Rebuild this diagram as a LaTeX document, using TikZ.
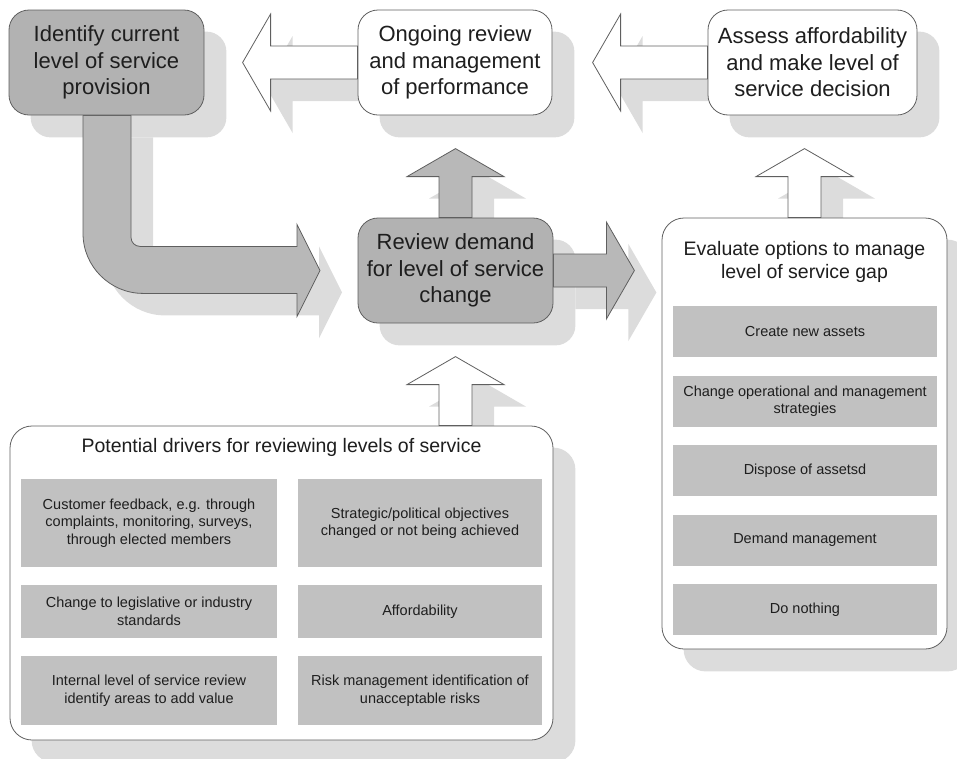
\documentclass[tikz,border=0pt]{standalone}
\usepackage{fontspec}
\setmainfont{Liberation Sans}
\usepackage{tikz}
\usetikzlibrary{calc}
\usetikzlibrary{positioning}

\pgfdeclarelayer{shadow}
\pgfdeclarelayer{arrows}
\pgfsetlayers{shadow,arrows,main}

\definecolor{boxgray}{RGB}{178,178,178}
\definecolor{arrowgray}{RGB}{184,184,184}
\definecolor{itemgray}{RGB}{193,193,193}
\definecolor{shadowgray}{RGB}{220,220,220}
\definecolor{linegray}{RGB}{95,95,95}
\definecolor{textgray}{RGB}{30,30,30}

\begin{document}
\begin{tikzpicture}[x=1pt,y=-1pt,
    stage/.style={draw=linegray,line width=0.8,rounded corners=20,
        minimum width=195,minimum height=105,inner sep=0,align=center,
        text=textgray,font=\fontsize{22}{26.5}\selectfont},
    panel/.style={draw=linegray,line width=0.8,rounded corners=22,fill=white},
    paneltitle/.style={align=center,text=textgray,font=\fontsize{19.5}{23}\selectfont},
    item/.style={fill=itemgray,inner sep=0,align=center,text=textgray,
        font=\fontsize{14.5}{17.5}\selectfont},
    blockstyle/.style={draw=linegray,line width=0.8},
    % straight block arrow along +x, #1 = length
    pics/blockarr/.style={code={
        \path[pic actions] (0,-16.5) -- ({#1-28},-16.5) -- ({#1-28},-48.5)
            -- (#1,0) -- ({#1-28},48.5) -- ({#1-28},16.5) -- (0,16.5) -- cycle;
    }},
    pics/bendarr/.style={code={
        \path[pic actions] (-23.5,0) -- (-23.5,118)
            .. controls (-23.5,151) and (3.5,178) .. (36.5,178)
            -- (190.5,178) -- (190.5,201) -- (213.5,155) -- (190.5,109)
            -- (190.5,131) -- (33.5,131)
            .. controls (28.5,131) and (24.5,127) .. (24.5,122)
            -- (24.5,0) -- cycle;
    }}]
\useasboundingbox (0,0) rectangle (957,758);

% top row
\node[stage,fill=boxgray] (ident) at (106.5,62.5) {Identify current\\level of service\\provision};
\node[stage,fill=white,minimum width=194] (ongoing) at (455,62.5) {Ongoing review\\and management\\of performance};
\node[stage,fill=white,minimum width=209] (assess) at (812.5,62.5) {Assess affordability\\and make level of\\service decision};

% middle
\node[stage,fill=boxgray] (review) at (455.5,270.5) {Review demand\\for level of service\\change};

% options panel
\node[panel,minimum width=285,minimum height=431] (evaluate) at (804.5,433.5) {};
\node[paneltitle] (evaltitle) at (804.5,261.5) {Evaluate options to manage\\level of service gap};
\foreach \txt [count=\i] in {Create new assets,
        {Change operational and management\\strategies},
        Dispose of assetsd, Demand management, Do nothing}
    \node[item,minimum width=264,minimum height=51] (opt\i) at (805,{262.5+69.4*\i}) {\txt};

% drivers panel
\node[panel,minimum width=543,minimum height=314] (drivers) at (281.5,583) {};
\node[paneltitle] (drvtitle) at (281.5,447) {Potential drivers for reviewing levels of service};
\node[item,minimum width=256,minimum height=88] (drv1) at (149,523) {Customer feedback, e.g. through\\complaints, monitoring, surveys,\\through elected members};
\node[item,minimum width=244,minimum height=88] (drv2) at (420,523) {Strategic/political objectives\\changed or not being achieved};
\node[item,minimum width=256,minimum height=53] (drv3) at (149,611.5) {Change to legislative or industry\\standards};
\node[item,minimum width=244,minimum height=53] (drv4) at (420,611.5) {Affordability};
\node[item,minimum width=256,minimum height=69] (drv5) at (149,690.5) {Internal level of service review\\identify areas to add value};
\node[item,minimum width=244,minimum height=69] (drv6) at (420,690.5) {Risk management identification of\\unacceptable risks};

\coordinate (drvin) at (review.south |- drivers.north);

% block arrows
\begin{pgfonlayer}{arrows}
\foreach \a/\rot/\len/\col in {ongoing.west/180/115/white, assess.west/180/115/white,
        review.east/0/81/arrowgray, review.north/90/69/arrowgray,
        evaluate.north/90/69/white, drvin/90/69/white}
    \pic[blockstyle,fill=\col,rotate=\rot] at (\a) {blockarr=\len};
\pic[blockstyle,fill=arrowgray] at (ident.south) {bendarr};
\end{pgfonlayer}

% shadows
\begin{pgfonlayer}{shadow}
\foreach \n/\r in {ident/20,ongoing/20,assess/20,review/20,evaluate/22,drivers/22}
    \fill[shadowgray,rounded corners=\r] ([shift={(22,22)}]\n.north west) rectangle ([shift={(22,22)}]\n.south east);
\foreach \a/\rot/\len in {ongoing.west/180/115, assess.west/180/115, review.east/0/81,
        review.north/90/69, evaluate.north/90/69, drvin/90/69}
    \pic[fill=shadowgray,rotate=\rot] at ([shift={(22,22)}]\a) {blockarr=\len};
\pic[fill=shadowgray] at ([shift={(22,22)}]ident.south) {bendarr};
\end{pgfonlayer}
\end{tikzpicture}
\end{document}
